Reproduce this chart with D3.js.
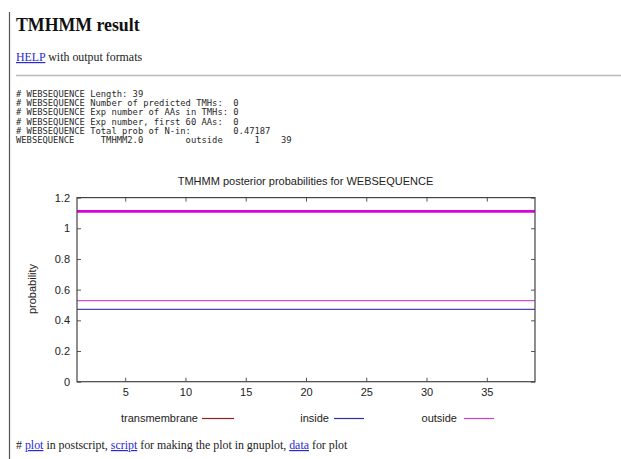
<!DOCTYPE html>
<html>
<head>
<meta charset="utf-8">
<script src="https://cdn.jsdelivr.net/npm/d3@7"></script>
<style>
  html, body { margin: 0; padding: 0; background: #fff; }
  svg { display: block; }
  .mono { font-family: "DejaVu Sans Mono", monospace; font-size: 8.9px; fill: #2a2a2a; white-space: pre; }
  .serif { font-family: "Liberation Serif", "Times New Roman", serif; }
  .gp { font-family: "Liberation Sans", Arial, sans-serif; font-size: 11px; fill: #222; }
</style>
</head>
<body>
<svg id="page" width="621" height="459"></svg>
<script>
// ---- data ----
const positions = d3.range(1, 40);                 // residues 1..39
const transmembrane = positions.map(() => 0);
const inside = positions.map(() => 0.47187);
const outside = positions.map(() => 0.52813);
const topologyLevel = 1.11;                        // thick "outside" topology bar
const topologySegments = [{label: "outside", start: 1, end: 39}];
const xTicks = [5, 10, 15, 20, 25, 30, 35];
const yTicks = [0, 0.2, 0.4, 0.6, 0.8, 1, 1.2];
const seriesNames = ["transmembrane", "inside", "outside"];
const headerLines = [
  "# WEBSEQUENCE Length: 39",
  "# WEBSEQUENCE Number of predicted TMHs:  0",
  "# WEBSEQUENCE Exp number of AAs in TMHs: 0",
  "# WEBSEQUENCE Exp number, first 60 AAs:  0",
  "# WEBSEQUENCE Total prob of N-in:        0.47187",
  "WEBSEQUENCE     TMHMM2.0        outside      1    39"
];

const svg = d3.select("#page");
const colors = {transmembrane: "#a82828", inside: "#4848b8", outside: "#d050d0", topo: "#dc00dc"};

// page left rule
svg.append("line").attr("x1", 9.5).attr("x2", 9.5).attr("y1", 12).attr("y2", 459)
  .attr("stroke", "#555").attr("stroke-width", 1.2);

// heading
svg.append("text").attr("class", "serif").attr("x", 16).attr("y", 31)
  .style("font-size", "17.8px").style("font-weight", "bold").attr("fill", "#111")
  .text("TMHMM result");

// HELP line
const help = svg.append("text").attr("class", "serif").attr("x", 16).attr("y", 61)
  .style("font-size", "11.9px").attr("fill", "#222");
help.append("tspan").attr("fill", "#2a2ad0").attr("text-decoration", "underline").text("HELP");
help.append("tspan").text(" with output formats");

// hr
svg.append("line").attr("x1", 16).attr("x2", 621).attr("y1", 75.5).attr("y2", 75.5)
  .attr("stroke", "#b8b8b8").attr("stroke-width", 1.5);

// preformatted header (5.3px per character)
svg.append("g").selectAll("text").data(headerLines).join("text")
  .attr("class", "mono").attr("x", 16).attr("y", (d, i) => 96.6 + i * 9.3)
  .attr("xml:space", "preserve")
  .attr("textLength", d => d.length * 5.3).attr("lengthAdjust", "spacingAndGlyphs")
  .text(d => d);

// ---- chart ----
const x = d3.scaleLinear().domain([1, 39]).range([77, 535]);
const y = d3.scaleLinear().domain([0, 1.2]).range([381.7, 197.6]);

// title
svg.append("text").attr("class", "gp").attr("x", 305.5).attr("y", 184.5)
  .attr("text-anchor", "middle").text("TMHMM posterior probabilities for WEBSEQUENCE");

// y label
svg.append("text").attr("class", "gp")
  .attr("transform", `translate(35.5,${289}) rotate(-90)`)
  .attr("text-anchor", "middle").text("probability");

// axes (inward ticks, mirrored)
function styleAxis(g) {
  g.select(".domain").remove();
  g.selectAll(".tick line").attr("stroke", "#555");
  g.selectAll(".tick text").attr("fill", "#222")
    .style("font-family", '"Liberation Sans", Arial, sans-serif').style("font-size", "11px");
}
svg.append("g").attr("transform", `translate(0,${y(0)})`)
  .call(d3.axisBottom(x).tickValues(xTicks).tickSizeInner(-4).tickSizeOuter(0).tickPadding(7).tickFormat(d3.format("d")))
  .call(styleAxis);
svg.append("g").attr("transform", `translate(0,${y(1.2)})`)
  .call(d3.axisTop(x).tickValues(xTicks).tickSizeInner(-4).tickSizeOuter(0).tickFormat(""))
  .call(styleAxis);
svg.append("g").attr("transform", `translate(${x(1)},0)`)
  .call(d3.axisLeft(y).tickValues(yTicks).tickSizeInner(-4).tickSizeOuter(0).tickPadding(7).tickFormat(d => d3.format("~g")(d)))
  .call(styleAxis);
svg.append("g").attr("transform", `translate(${x(39)},0)`)
  .call(d3.axisRight(y).tickValues(yTicks).tickSizeInner(-4).tickSizeOuter(0).tickFormat(""))
  .call(styleAxis);

// series
const line = d3.line().x((d, i) => x(positions[i])).y(d => y(d));
svg.append("path").datum(inside).attr("d", line)
  .attr("fill", "none").attr("stroke", colors.inside).attr("stroke-width", 1.2);
svg.append("path").datum(outside).attr("d", line)
  .attr("fill", "none").attr("stroke", colors.outside).attr("stroke-width", 1.2);
// transmembrane as impulses (all zero height here)
svg.append("g").selectAll("line").data(transmembrane).join("line")
  .attr("x1", (d, i) => x(positions[i])).attr("x2", (d, i) => x(positions[i]))
  .attr("y1", y(0)).attr("y2", d => y(d))
  .attr("stroke", colors.transmembrane).attr("stroke-width", 2);

// topology bar
svg.append("g").selectAll("line").data(topologySegments).join("line")
  .attr("x1", d => x(d.start)).attr("x2", d => x(d.end))
  .attr("y1", y(topologyLevel)).attr("y2", y(topologyLevel))
  .attr("stroke", colors.topo).attr("stroke-width", 2.6);

// border
svg.append("rect").attr("x", x(1)).attr("y", y(1.2))
  .attr("width", x(39) - x(1)).attr("height", y(0) - y(1.2))
  .attr("fill", "none").attr("stroke", "#444").attr("stroke-width", 1.2);

// legend
const legendPos = [
  {name: "transmembrane", textRight: 198, lx1: 202, lx2: 234},
  {name: "inside", textRight: 329, lx1: 334, lx2: 364},
  {name: "outside", textRight: 457, lx1: 464, lx2: 494}
];
const legendColor = {transmembrane: "#9a2020", inside: "#30309a", outside: "#d040d0"};
const lg = svg.append("g").selectAll("g").data(seriesNames).join("g");
lg.append("text").attr("class", "gp").attr("text-anchor", "end")
  .attr("x", (d, i) => legendPos[i].textRight).attr("y", 422).text(d => d);
lg.append("line").attr("x1", (d, i) => legendPos[i].lx1).attr("x2", (d, i) => legendPos[i].lx2)
  .attr("y1", 418.5).attr("y2", 418.5).attr("stroke", d => legendColor[d]).attr("stroke-width", 1.2);

// footer
const foot = svg.append("text").attr("class", "serif").attr("x", 16).attr("y", 449)
  .style("font-size", "11.9px").attr("fill", "#222");
const link = t => foot.append("tspan").attr("fill", "#2a2ad0").attr("text-decoration", "underline").text(t);
foot.append("tspan").text("# ");
link("plot");
foot.append("tspan").text(" in postscript, ");
link("script");
foot.append("tspan").text(" for making the plot in gnuplot, ");
link("data");
foot.append("tspan").text(" for plot");
</script>
</body>
</html>
